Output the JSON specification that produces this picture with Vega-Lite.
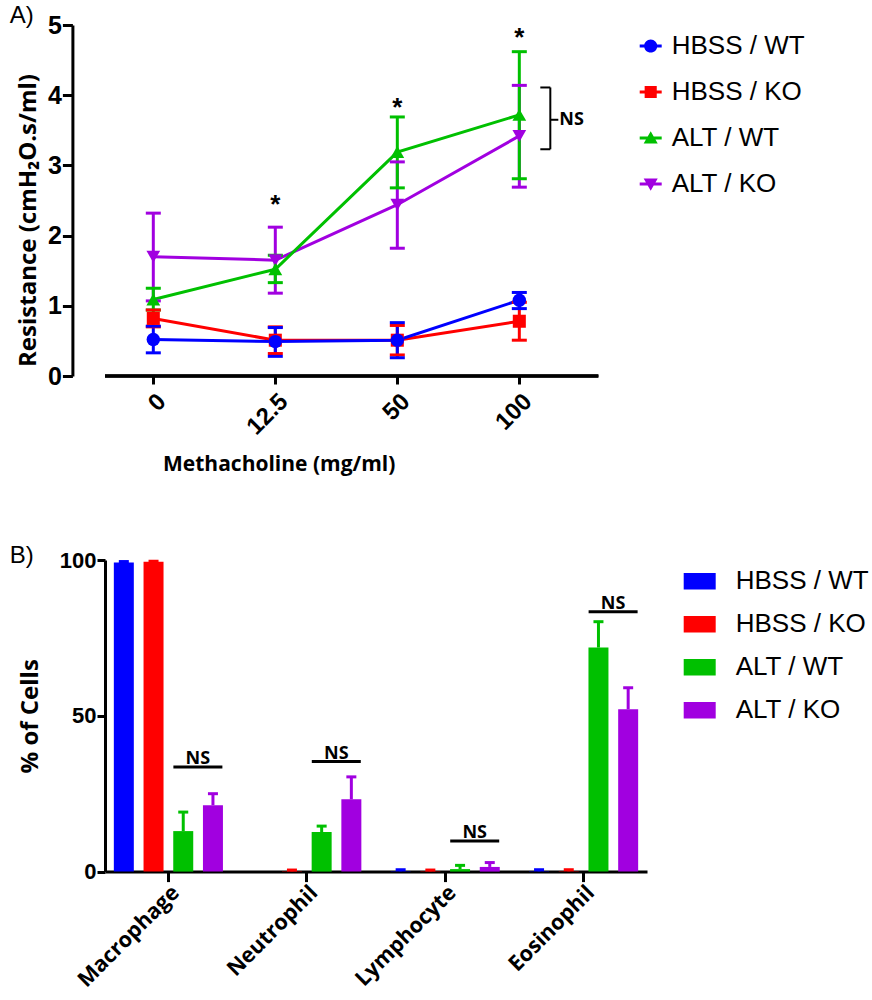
{
  "$schema": "https://vega.github.io/schema/vega-lite/v6.json",
  "background": "white",
  "padding": {"left": 9, "top": 4, "right": 0, "bottom": 0},
  "spacing": 70,
  "columns": 1,
  "align": "none",
  "resolve": {"scale": {"color": "independent", "shape": "independent"}, "legend": {"color": "independent", "shape": "independent"}},
  "config": {
    "view": {"stroke": null},
    "axis": {"domainColor": "black", "domainWidth": 3, "tickColor": "black", "tickWidth": 3, "labelColor": "black", "titleColor": "black", "grid": false},
    "legend": {"labelColor": "black", "labelLimit": 400, "symbolStrokeWidth": 0, "symbolOpacity": 1}
  },
  "datasets": {
    "resist": [
      {"dose": "0", "group": "ALT / KO", "mean": 1.70, "lo": 1.07, "hi": 2.32},
      {"dose": "12.5", "group": "ALT / KO", "mean": 1.65, "lo": 1.18, "hi": 2.12},
      {"dose": "50", "group": "ALT / KO", "mean": 2.44, "lo": 1.82, "hi": 3.05},
      {"dose": "100", "group": "ALT / KO", "mean": 3.42, "lo": 2.69, "hi": 4.14},
      {"dose": "0", "group": "ALT / WT", "mean": 1.09, "lo": 0.94, "hi": 1.25},
      {"dose": "12.5", "group": "ALT / WT", "mean": 1.52, "lo": 1.33, "hi": 1.72},
      {"dose": "50", "group": "ALT / WT", "mean": 3.19, "lo": 2.68, "hi": 3.69},
      {"dose": "100", "group": "ALT / WT", "mean": 3.72, "lo": 2.81, "hi": 4.62},
      {"dose": "0", "group": "HBSS / KO", "mean": 0.82, "lo": 0.70, "hi": 0.94},
      {"dose": "12.5", "group": "HBSS / KO", "mean": 0.51, "lo": 0.32, "hi": 0.70},
      {"dose": "50", "group": "HBSS / KO", "mean": 0.51, "lo": 0.30, "hi": 0.72},
      {"dose": "100", "group": "HBSS / KO", "mean": 0.78, "lo": 0.51, "hi": 1.05},
      {"dose": "0", "group": "HBSS / WT", "mean": 0.52, "lo": 0.33, "hi": 0.71},
      {"dose": "12.5", "group": "HBSS / WT", "mean": 0.49, "lo": 0.28, "hi": 0.69},
      {"dose": "50", "group": "HBSS / WT", "mean": 0.51, "lo": 0.26, "hi": 0.76},
      {"dose": "100", "group": "HBSS / WT", "mean": 1.08, "lo": 0.96, "hi": 1.19}
    ],
    "stars": [
      {"dose": "12.5", "y": 2.5, "label": "*"},
      {"dose": "50", "y": 3.87, "label": "*"},
      {"dose": "100", "y": 4.87, "label": "*"}
    ],
    "bracketEnds": [
      {"dose": "100", "y": 4.11},
      {"dose": "100", "y": 3.23}
    ],
    "bracketSpan": [
      {"dose": "100", "y": 3.23, "y2": 4.11}
    ],
    "bracketMid": [
      {"dose": "100", "y": 3.65, "label": "NS"}
    ],
    "cells": [
      {"cell": "Macrophage", "group": "HBSS / WT", "pct": 99.2, "hi": 99.5},
      {"cell": "Macrophage", "group": "HBSS / KO", "pct": 99.4, "hi": 99.6},
      {"cell": "Macrophage", "group": "ALT / WT", "pct": 13.0, "hi": 19.1},
      {"cell": "Macrophage", "group": "ALT / KO", "pct": 21.3, "hi": 25.0},
      {"cell": "Neutrophil", "group": "HBSS / WT", "pct": 0, "hi": null},
      {"cell": "Neutrophil", "group": "HBSS / KO", "pct": 0.1, "hi": 0.5},
      {"cell": "Neutrophil", "group": "ALT / WT", "pct": 12.7, "hi": 14.6},
      {"cell": "Neutrophil", "group": "ALT / KO", "pct": 23.2, "hi": 30.4},
      {"cell": "Lymphocyte", "group": "HBSS / WT", "pct": 0.1, "hi": 0.6},
      {"cell": "Lymphocyte", "group": "HBSS / KO", "pct": 0.1, "hi": 0.5},
      {"cell": "Lymphocyte", "group": "ALT / WT", "pct": 0.8, "hi": 2.0},
      {"cell": "Lymphocyte", "group": "ALT / KO", "pct": 1.5, "hi": 2.9},
      {"cell": "Eosinophil", "group": "HBSS / WT", "pct": 0.1, "hi": 0.6},
      {"cell": "Eosinophil", "group": "HBSS / KO", "pct": 0.1, "hi": 0.6},
      {"cell": "Eosinophil", "group": "ALT / WT", "pct": 71.9, "hi": 80.2},
      {"cell": "Eosinophil", "group": "ALT / KO", "pct": 52.1, "hi": 59.0}
    ],
    "nsB": [
      {"cell": "Macrophage", "y": 33.6, "label": "NS"},
      {"cell": "Neutrophil", "y": 35.3, "label": "NS"},
      {"cell": "Lymphocyte", "y": 9.8, "label": "NS"},
      {"cell": "Eosinophil", "y": 83.4, "label": "NS"}
    ]
  },
  "concat": [
    {
      "width": 527.3,
      "height": 351,
      "title": {"text": "A)", "anchor": "start", "frame": "group", "dx": -95.3, "dy": 15, "offset": 0, "font": "Liberation Sans", "fontSize": 24, "fontWeight": "normal", "color": "black"},
      "layer": [
        {
          "data": {"name": "stars"},
          "mark": {"type": "rule", "strokeWidth": 3, "color": "black", "xOffset": -34},
          "encoding": {
            "y": {"datum": 0, "type": "quantitative"}
          }
        },
        {
          "encoding": {
            "x": {"field": "dose", "type": "ordinal", "sort": ["0", "12.5", "50", "100"],
              "scale": {"type": "point", "padding": 0.661, "align": 0.2995},
              "axis": {"title": "Methacholine (mg/ml)", "titleFont": "Open Sans", "titleFontSize": 21, "titleFontWeight": "bold", "titleX": 173.7, "titleY": 88, "titleAlign": "center", "titleBaseline": "middle",
                "domain": false, "labelAngle": -45, "labelFont": "Liberation Sans", "labelFontSize": 24, "labelFontWeight": "bold", "tickSize": 8, "labelPadding": 5}},
            "y": {"field": "mean", "type": "quantitative", "scale": {"domain": [0, 5], "nice": false},
              "axis": {"title": "Resistance (cmH₂O.s/ml)", "offset": 32.6, "titleFont": "Open Sans", "titleFontSize": 24, "titleFontWeight": "bold", "titleX": -44, "titleY": 195, "titleAlign": "center", "titleBaseline": "middle", "titleAngle": -90,
                "values": [0, 1, 2, 3, 4, 5], "format": "d", "labelFont": "Liberation Sans", "labelFontSize": 25, "labelFontWeight": "bold", "tickSize": 10, "labelPadding": 1}}
          },
          "layer": [
            {
              "data": {"name": "resist"},
              "mark": {"type": "point", "filled": true, "size": 0},
              "encoding": {
                "color": {"field": "group", "type": "nominal",
                  "scale": {"domain": ["HBSS / WT", "HBSS / KO", "ALT / WT", "ALT / KO"], "range": ["#0000FF", "#FF0000", "#00C000", "#A100E0"]},
                  "legend": {"orient": "none", "legendX": 532.7, "legendY": 8, "title": null, "labelFont": "Liberation Sans", "labelFontSize": 26, "symbolSize": 484, "rowPadding": 20, "labelOffset": 8}},
                "shape": {"field": "group", "type": "nominal",
                  "scale": {"domain": ["HBSS / WT", "HBSS / KO", "ALT / WT", "ALT / KO"],
                    "range": [
                      "M-1,-0.13H1V0.13H-1Z M0.6,0A0.6,0.6,0,1,1,-0.6,0A0.6,0.6,0,1,1,0.6,0Z",
                      "M-1,-0.13H1V0.13H-1Z M-0.55,-0.55H0.55V0.55H-0.55Z",
                      "M-1,-0.13H1V0.13H-1Z M0,-0.62L0.64,0.5L-0.64,0.5Z",
                      "M-1,-0.13H1V0.13H-1Z M0,0.62L-0.64,-0.5L0.64,-0.5Z"
                    ]},
                  "legend": {"orient": "none", "legendX": 532.7, "legendY": 8, "title": null, "labelFont": "Liberation Sans", "labelFontSize": 26, "symbolSize": 484, "rowPadding": 20, "labelOffset": 8}}
              }
            },
            {
              "data": {"name": "resist"},
              "mark": {"type": "line", "strokeWidth": 3},
              "encoding": {
                "color": {"field": "group", "type": "nominal", "legend": null}
              }
            },
            {
              "data": {"name": "resist"},
              "mark": {"type": "rule", "strokeWidth": 3},
              "encoding": {
                "y": {"field": "lo", "type": "quantitative"},
                "y2": {"field": "hi"},
                "color": {"field": "group", "type": "nominal", "legend": null}
              }
            },
            {
              "data": {"name": "resist"},
              "mark": {"type": "tick", "orient": "horizontal", "size": 15, "thickness": 3, "opacity": 1},
              "encoding": {
                "y": {"field": "lo", "type": "quantitative"},
                "color": {"field": "group", "type": "nominal", "legend": null}
              }
            },
            {
              "data": {"name": "resist"},
              "mark": {"type": "tick", "orient": "horizontal", "size": 15, "thickness": 3, "opacity": 1},
              "encoding": {
                "y": {"field": "hi", "type": "quantitative"},
                "color": {"field": "group", "type": "nominal", "legend": null}
              }
            },
            {
              "data": {"name": "resist"},
              "transform": [{"filter": "datum.group === 'ALT / KO'"}],
              "mark": {"type": "point", "filled": true, "size": 190, "opacity": 1, "shape": "triangle-down"},
              "encoding": {
                "color": {"field": "group", "type": "nominal", "legend": null}
              }
            },
            {
              "data": {"name": "resist"},
              "transform": [{"filter": "datum.group === 'ALT / WT'"}],
              "mark": {"type": "point", "filled": true, "size": 190, "opacity": 1, "shape": "triangle-up"},
              "encoding": {
                "color": {"field": "group", "type": "nominal", "legend": null}
              }
            },
            {
              "data": {"name": "resist"},
              "transform": [{"filter": "datum.group === 'HBSS / KO'"}],
              "mark": {"type": "point", "filled": true, "size": 170, "opacity": 1, "shape": "square"},
              "encoding": {
                "color": {"field": "group", "type": "nominal", "legend": null}
              }
            },
            {
              "data": {"name": "resist"},
              "transform": [{"filter": "datum.group === 'HBSS / WT'"}],
              "mark": {"type": "point", "filled": true, "size": 180, "opacity": 1, "shape": "circle"},
              "encoding": {
                "color": {"field": "group", "type": "nominal", "legend": null}
              }
            },
            {
              "data": {"name": "stars"},
              "mark": {"type": "text", "font": "Liberation Sans", "fontSize": 26, "fontWeight": "bold", "baseline": "middle", "dy": 4, "color": "black"},
              "encoding": {
                "y": {"field": "y", "type": "quantitative"},
                "text": {"field": "label"}
              }
            },
            {
              "data": {"name": "bracketEnds"},
              "mark": {"type": "rule", "strokeWidth": 2, "color": "black", "xOffset": 21, "x2Offset": 31},
              "encoding": {
                "x2": {"field": "dose"},
                "y": {"field": "y", "type": "quantitative"}
              }
            },
            {
              "data": {"name": "bracketSpan"},
              "mark": {"type": "rule", "strokeWidth": 2, "color": "black", "xOffset": 31},
              "encoding": {
                "y": {"field": "y", "type": "quantitative"},
                "y2": {"field": "y2"}
              }
            },
            {
              "data": {"name": "bracketMid"},
              "mark": {"type": "rule", "strokeWidth": 2, "color": "black", "xOffset": 31, "x2Offset": 39},
              "encoding": {
                "x2": {"field": "dose"},
                "y": {"field": "y", "type": "quantitative"}
              }
            },
            {
              "data": {"name": "bracketMid"},
              "mark": {"type": "text", "font": "Open Sans", "fontSize": 18, "fontWeight": "bold", "align": "left", "baseline": "middle", "dx": 40, "color": "black"},
              "encoding": {
                "y": {"field": "y", "type": "quantitative"},
                "text": {"field": "label"}
              }
            }
          ]
        }
      ]
    },
    {
      "width": 542,
      "height": 311.6,
      "title": {"text": "B)", "anchor": "start", "frame": "group", "dx": -95.3, "dy": 19, "offset": 0, "font": "Liberation Sans", "fontSize": 24, "fontWeight": "normal", "color": "black"},
      "encoding": {
        "x": {"field": "cell", "type": "nominal", "sort": ["Macrophage", "Neutrophil", "Lymphocyte", "Eosinophil"],
          "scale": {"type": "band", "paddingInner": 0.14, "paddingOuter": 0.028},
          "axis": {"title": null, "labelAngle": -45, "labelFont": "Open Sans", "labelFontSize": 21.5, "labelFontWeight": "bold", "tickSize": 10, "labelPadding": 0}}
      },
      "layer": [
        {
          "data": {"name": "cells"},
          "mark": {"type": "bar"},
          "encoding": {
            "xOffset": {"field": "group", "type": "nominal", "sort": ["HBSS / WT", "HBSS / KO", "ALT / WT", "ALT / KO"], "scale": {"paddingInner": 0.327, "paddingOuter": 0.167}},
            "y": {"field": "pct", "type": "quantitative", "scale": {"domain": [0, 100], "nice": false},
              "axis": {"title": "% of Cells", "titleFont": "Open Sans", "titleFontSize": 24, "titleFontWeight": "bold", "titleX": -74.8, "titleY": 155.8, "titleAlign": "center", "titleBaseline": "middle", "titleAngle": -90,
                "values": [0, 50, 100], "labelFont": "Liberation Sans", "labelFontSize": 22, "labelFontWeight": "bold", "tickSize": 8, "labelPadding": 1}},
            "color": {"field": "group", "type": "nominal",
              "scale": {"domain": ["HBSS / WT", "HBSS / KO", "ALT / WT", "ALT / KO"], "range": ["#0000FF", "#FF0000", "#00C000", "#A100E0"]},
              "legend": {"orient": "none", "legendX": 578.7, "legendY": 5.3, "title": null, "labelFont": "Liberation Sans", "labelFontSize": 26, "symbolType": "M-1,-0.52H1V0.52H-1Z", "symbolSize": 1024, "rowPadding": 14, "labelOffset": 20}}
          }
        },
        {
          "data": {"name": "cells"},
          "transform": [{"filter": "datum.hi != null"}],
          "mark": {"type": "rule", "strokeWidth": 3},
          "encoding": {
            "xOffset": {"field": "group", "type": "nominal", "sort": ["HBSS / WT", "HBSS / KO", "ALT / WT", "ALT / KO"]},
            "y": {"field": "pct", "type": "quantitative"},
            "y2": {"field": "hi"},
            "color": {"field": "group", "type": "nominal", "legend": null}
          }
        },
        {
          "data": {"name": "cells"},
          "transform": [{"filter": "datum.hi != null"}],
          "mark": {"type": "tick", "orient": "horizontal", "size": 10, "thickness": 3, "opacity": 1},
          "encoding": {
            "xOffset": {"field": "group", "type": "nominal", "sort": ["HBSS / WT", "HBSS / KO", "ALT / WT", "ALT / KO"]},
            "y": {"field": "hi", "type": "quantitative"},
            "color": {"field": "group", "type": "nominal", "legend": null}
          }
        },
        {
          "data": {"name": "nsB"},
          "mark": {"type": "rule", "strokeWidth": 3, "color": "black", "xOffset": 5, "x2Offset": 54},
          "encoding": {
            "x2": {"field": "cell"},
            "y": {"field": "y", "type": "quantitative"}
          }
        },
        {
          "data": {"name": "nsB"},
          "mark": {"type": "text", "font": "Open Sans", "fontSize": 18, "fontWeight": "bold", "align": "center", "baseline": "alphabetic", "dy": -3, "xOffset": 29.5, "color": "black"},
          "encoding": {
            "y": {"field": "y", "type": "quantitative"},
            "text": {"field": "label"}
          }
        }
      ]
    }
  ]
}
